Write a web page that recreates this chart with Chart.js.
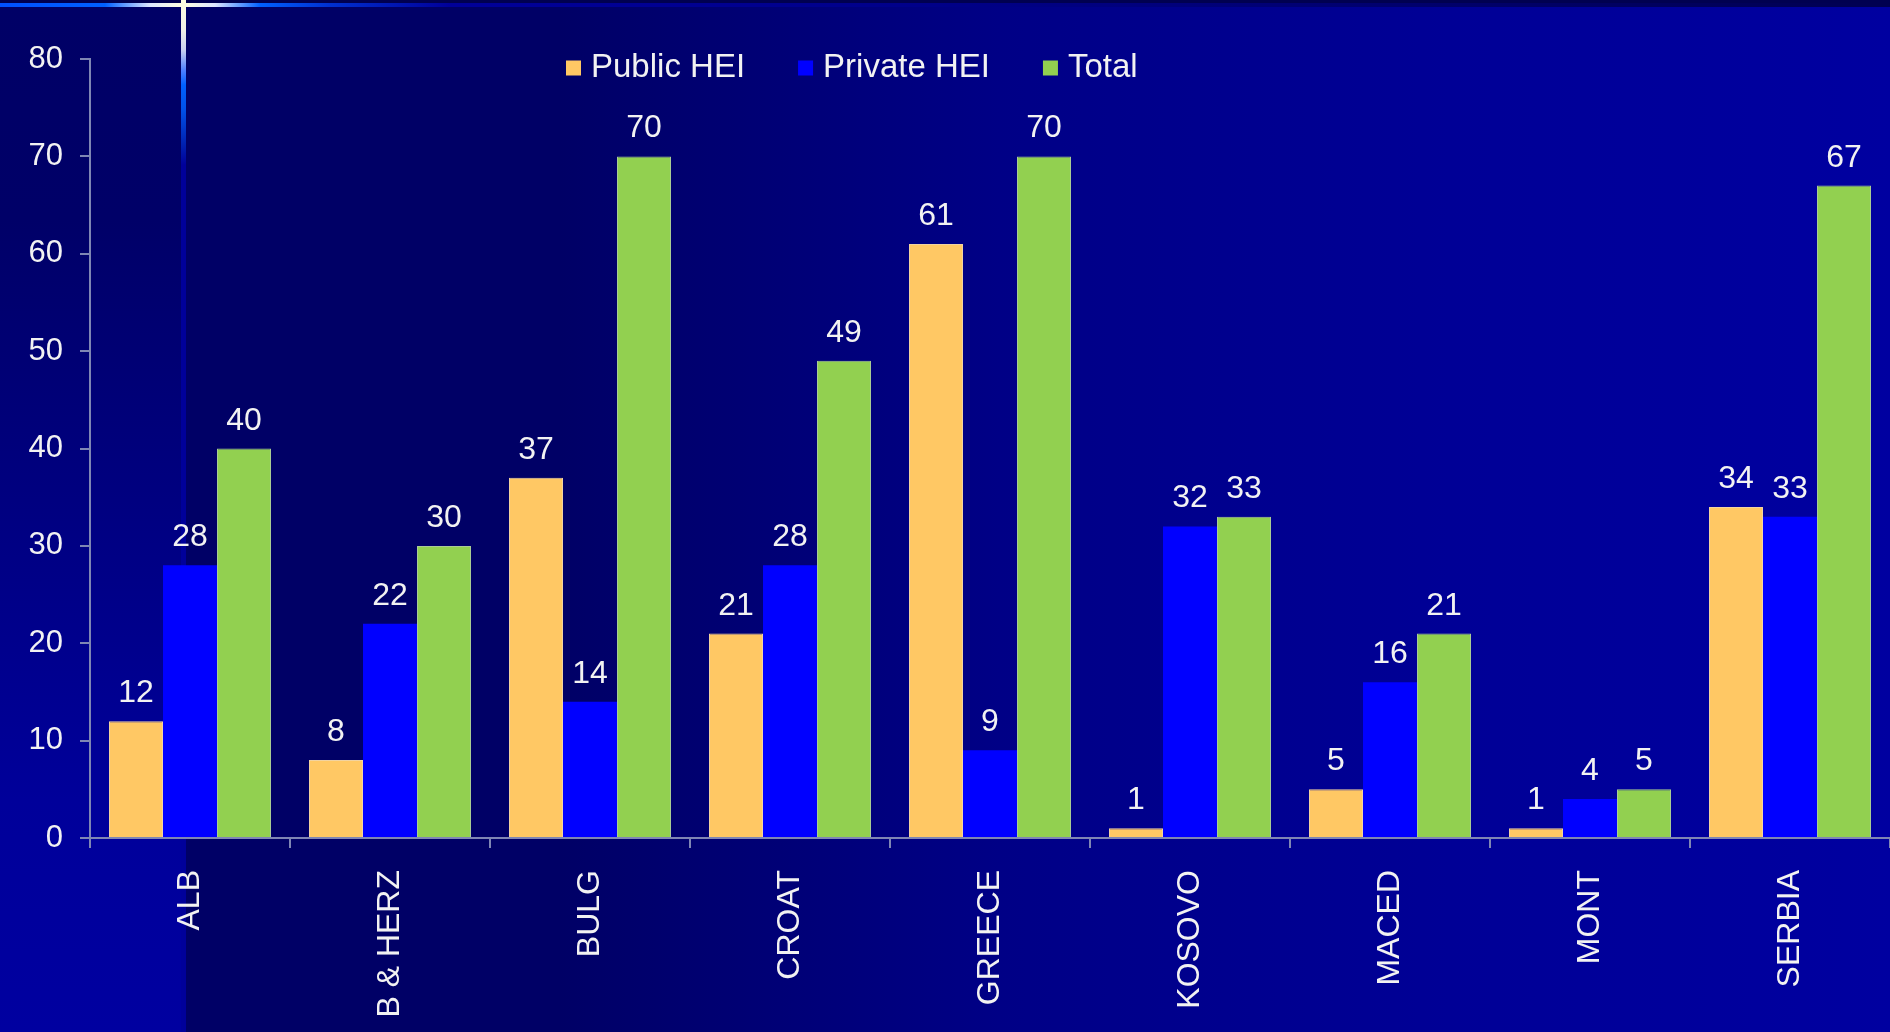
<!DOCTYPE html>
<html>
<head>
<meta charset="utf-8">
<script src="https://cdn.jsdelivr.net/npm/chart.js@4.4.1/dist/chart.umd.min.js"></script>
<style>
  html, body { margin: 0; padding: 0; width: 1890px; height: 1032px; overflow: hidden; background: #000066; }
  #wrap { position: relative; width: 1890px; height: 1032px; }
  #bgMain { position: absolute; left: 0; top: 0; width: 1890px; height: 1032px;
    background: linear-gradient(to right, #000066 0px, #000066 560px, #000086 1000px, #000096 1450px, #0000A0 1890px); }
  #bgStrip { position: absolute; left: 0; top: 0; width: 183px; height: 1032px;
    background: linear-gradient(to bottom, #000066 0px, #000068 220px, #000080 500px, #00009A 800px, #0000A0 1032px); }
  #topDark { position: absolute; left: 0; top: 0; width: 1890px; height: 3px; background: #000050; }
  #topLine { position: absolute; left: 0; top: 3px; width: 1890px; height: 4px;
    background: linear-gradient(to right, #0050FF 0px, #0060FF 105px, #DDE6FF 150px, #FFFFE0 183px, #DDE6FF 215px, #0060FF 260px, #0030D0 330px, #000099 450px, #00008A 900px, #000050 1890px); }
  #vLine { position: absolute; left: 181px; top: 0; width: 5px; height: 1032px;
    background: linear-gradient(to bottom, #FFFFE0 0px, #F0F0E8 30px, #C8D0F0 50px, #5080FF 70px, #0060FF 85px, #0050E8 110px, #0020B0 145px, #00009A 165px, #00009A 1032px); }
  canvas { position: absolute; left: 0; top: 0; }
</style>
</head>
<body>
<div id="wrap">
  <div id="bgMain"></div>
  <div id="bgStrip"></div>
  <div id="topDark"></div>
  <div id="topLine"></div>
  <div id="vLine"></div>
  <canvas id="c" width="1890" height="1032"></canvas>
</div>
<script>
const categories = ["ALB", "B & HERZ", "BULG", "CROAT", "GREECE", "KOSOVO", "MACED", "MONT", "SERBIA"];
const publicHEI  = [12, 8, 37, 21, 61, 1, 5, 1, 34];
const privateHEI = [28, 22, 14, 28, 9, 32, 16, 4, 33];
const totalHEI   = [40, 30, 70, 49, 70, 33, 21, 5, 67];
const seriesNames = ["Public HEI", "Private HEI", "Total"];
const yTicks = [0, 10, 20, 30, 40, 50, 60, 70, 80];

const FONT = '"Liberation Sans", Arial, sans-serif';
const TEXT = '#F2F2F2';
const AXIS = '#7F86B4';

const valueLabels = {
  id: 'valueLabels',
  afterDatasetsDraw(chart) {
    const ctx = chart.ctx;
    ctx.save();
    ctx.font = '32px ' + FONT;
    ctx.fillStyle = TEXT;
    ctx.textAlign = 'center';
    ctx.textBaseline = 'alphabetic';
    chart.data.datasets.forEach((ds, i) => {
      const meta = chart.getDatasetMeta(i);
      meta.data.forEach((el, j) => {
        ctx.fillText(String(ds.data[j]), el.x, el.y - 19);
      });
    });
    ctx.restore();
  }
};

const customLegend = {
  id: 'customLegend',
  afterDraw(chart) {
    const ctx = chart.ctx;
    ctx.save();
    ctx.font = '33px ' + FONT;
    ctx.textBaseline = 'middle';
    ctx.textAlign = 'left';
    let x = 566;
    const cy = 68;
    chart.data.datasets.forEach((ds) => {
      ctx.fillStyle = ds.backgroundColor;
      ctx.fillRect(x, cy - 7.5, 15, 15);
      ctx.fillStyle = TEXT;
      ctx.fillText(ds.label, x + 25, cy);
      x += 25 + ctx.measureText(ds.label).width + 53;
    });
    ctx.restore();
  }
};

new Chart(document.getElementById('c'), {
  type: 'bar',
  data: {
    labels: categories,
    datasets: [
      { label: seriesNames[0], data: publicHEI,  backgroundColor: '#FFC864', borderColor: '#F2D3A0', borderWidth: 1 },
      { label: seriesNames[1], data: privateHEI, backgroundColor: '#0000FF', borderColor: '#0000FF', borderWidth: 0 },
      { label: seriesNames[2], data: totalHEI,   backgroundColor: '#92D050', borderColor: '#A9CC94', borderWidth: 1 }
    ]
  },
  options: {
    responsive: false,
    animation: false,
    devicePixelRatio: 1,
    layout: { padding: { top: 59, left: 0, right: 0, bottom: 0 } },
    plugins: { legend: { display: false }, tooltip: { enabled: false } },
    datasets: { bar: { categoryPercentage: 0.81, barPercentage: 1.0 } },
    scales: {
      x: {
        offset: true,
        grid: { display: true, drawOnChartArea: false, drawTicks: true, tickLength: 10, color: AXIS, offset: true, lineWidth: 2 },
        border: { display: true, color: AXIS, width: 2 },
        ticks: { color: TEXT, font: { size: 32, family: FONT }, maxRotation: 90, minRotation: 90, autoSkip: false, padding: 22 },
        afterFit(scale) { scale.height = 194; }
      },
      y: {
        min: 0, max: 80,
        afterBuildTicks(scale) { scale.ticks = yTicks.map(v => ({ value: v })); },
        grid: { display: true, drawOnChartArea: false, drawTicks: true, tickLength: 10, color: AXIS, lineWidth: 2 },
        border: { display: true, color: AXIS, width: 2 },
        ticks: { color: TEXT, font: { size: 31, family: FONT }, padding: 17 },
        afterFit(scale) { scale.width = 90; }
      }
    }
  },
  plugins: [valueLabels, customLegend]
});
</script>
</body>
</html>
